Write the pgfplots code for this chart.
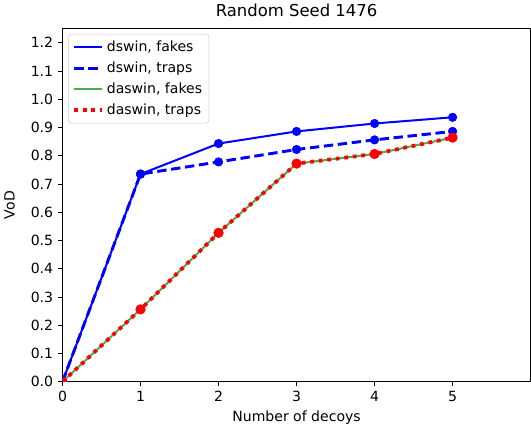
\documentclass[border=0pt]{standalone}
\usepackage{pgfplots}
\pgfplotsset{compat=1.18}
\usepackage{fontspec}
\setmainfont{DejaVu Sans}
\definecolor{mplgreen}{RGB}{80,170,80}
\definecolor{mplblue}{RGB}{0,0,255}
\begin{document}
\begin{tikzpicture}
\begin{axis}[
  scale only axis,
  width=350pt, height=264pt,
  xmin=0, xmax=6, ymin=0, ymax=1.25,
  xtick={0,1,2,3,4,5},
  ytick={0,0.1,0.2,0.3,0.4,0.5,0.6,0.7,0.8,0.9,1.0,1.1,1.2},
  yticklabel style={/pgf/number format/.cd, fixed, fixed zerofill, precision=1},
  /pgf/number format/assume math mode=true,
  tick align=outside,
  major tick length=3.5pt,
  tick style={black, line width=0.6pt},
  axis line style={black, line width=0.6pt},
  ticklabel style={font=\fontsize{10.5}{12}\selectfont},
  xtick pos=bottom, ytick pos=left,
  title={Random Seed 1476},
  title style={font=\fontsize{12.3}{14}\selectfont, yshift=-1pt},
  xlabel={Number of decoys},
  ylabel={VoD},
  label style={font=\fontsize{10.5}{12}\selectfont},
  ylabel style={yshift=5pt},
  clip marker paths=true,
  legend cell align=left,
  legend style={font=\fontsize{10.5}{12}\selectfont, draw=black!20, rounded corners=2pt, inner sep=3pt, row sep=2.2pt, at={(0.012,0.985)}, anchor=north west},
  legend image code/.code={\draw[#1] (0pt,0pt) -- (21pt,0pt);},
]
\addplot[mplblue, line width=1.5pt] coordinates {(0,0) (1,0.735) (2,0.843) (3,0.886) (4,0.914) (5,0.936)};
\addlegendentry{dswin, fakes}
\addplot[mplblue, line width=2.2pt, dash pattern=on 7pt off 3.5pt] coordinates {(0,0) (1,0.735) (2,0.778) (3,0.822) (4,0.856) (5,0.886)};
\addlegendentry{dswin, traps}
\addplot[mplgreen, line width=1.5pt] coordinates {(0,0) (1,0.256) (2,0.527) (3,0.772) (4,0.806) (5,0.864)};
\addlegendentry{daswin, fakes}
\addplot[red, line width=2.8pt, dash pattern=on 2.8pt off 3.6pt] coordinates {(0,0) (1,0.256) (2,0.527) (3,0.772) (4,0.806) (5,0.864)};
\addlegendentry{daswin, traps}
\addplot[only marks, mark=*, mark size=3.2pt, mplblue, forget plot] coordinates {(0,0) (1,0.735) (2,0.843) (3,0.886) (4,0.914) (5,0.936)};
\addplot[only marks, mark=*, mark size=3.2pt, mplblue, forget plot] coordinates {(0,0) (1,0.735) (2,0.778) (3,0.822) (4,0.856) (5,0.886)};
\addplot[only marks, mark=*, mark size=3.6pt, red, forget plot] coordinates {(0,0) (1,0.256) (2,0.527) (3,0.772) (4,0.806) (5,0.864)};
\end{axis}
\end{tikzpicture}
\end{document}
